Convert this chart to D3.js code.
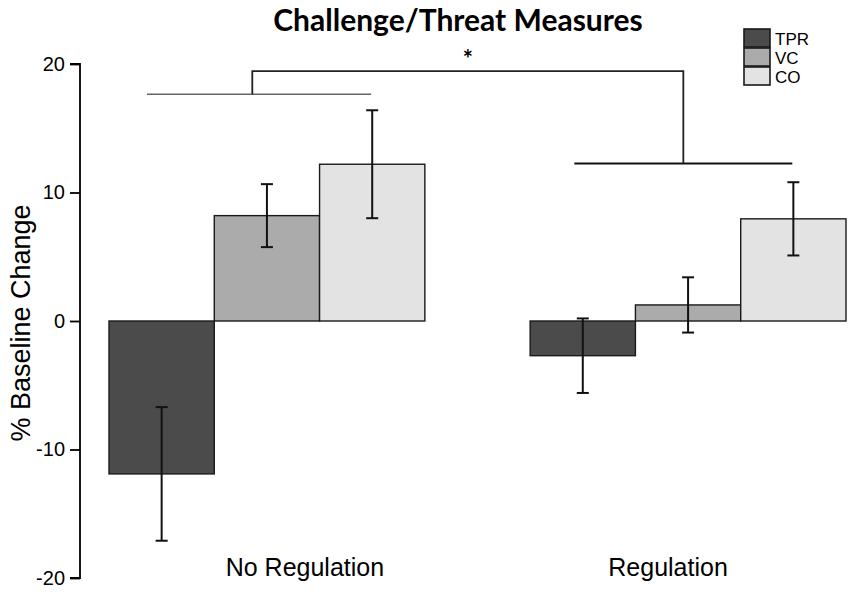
<!DOCTYPE html>
<html>
<head>
<meta charset="utf-8">
<script src="https://cdn.jsdelivr.net/npm/d3@7/dist/d3.min.js"></script>
<style>
  html, body { margin: 0; padding: 0; background: #fff; }
  svg { display: block; }
</style>
</head>
<body>
<svg id="chart" width="850" height="616"></svg>
<script>
// ---- data ----
const groups = ["No Regulation", "Regulation"];
const series = ["TPR", "VC", "CO"];
const values = {
  "No Regulation": [-11.9, 8.2, 12.2],
  "Regulation": [-2.7, 1.25, 7.95]
};
const errors = {
  "No Regulation": [5.2, 2.45, 4.2],
  "Regulation": [2.9, 2.15, 2.85]
};
const colors = ["#4b4b4b", "#ababab", "#e3e3e3"];
const yTicks = [-20, -10, 0, 10, 20];
const titleText = "Challenge/Threat Measures";
const yLabel = "% Baseline Change";
// significance bracket levels (data units)
const bracketLevels = { groupLine: [17.65, 12.25], top: 19.45 };
const sigLabel = "*";

// ---- scales ----
const svg = d3.select("#chart");
const y = d3.scaleLinear().domain([-20, 20]).range([578, 64]);
const x0 = d3.scaleBand().domain(groups).range([109, 846]).paddingInner(0.25).paddingOuter(0);
const x1 = d3.scaleBand().domain(series).range([0, x0.bandwidth()]).padding(0);
const color = d3.scaleOrdinal().domain(series).range(colors);

// ---- title ----
svg.append("text")
  .attr("x", 458).attr("y", 31)
  .attr("text-anchor", "middle")
  .attr("font-family", "Lato, 'Open Sans', sans-serif")
  .attr("font-weight", "bold")
  .attr("font-size", 30)
  .attr("fill", "#000")
  .text(titleText);

// ---- y axis ----
const yAxis = d3.axisLeft(y).tickValues(yTicks).tickSize(10).tickPadding(5).tickFormat(d => String(d));
const gy = svg.append("g").attr("transform", "translate(80,0)").call(yAxis);
gy.select(".domain").attr("stroke", "#000").attr("stroke-width", 1.8)
  .attr("d", `M-10,${y(20)}H0V${y(-20)}H-10`);
gy.selectAll(".tick line").attr("stroke", "#000").attr("stroke-width", 1.8);
gy.selectAll(".tick text")
  .attr("font-family", "'Liberation Sans', Arial, sans-serif")
  .attr("font-size", 20).attr("fill", "#000");

svg.append("text")
  .attr("transform", `translate(30,${y(0) + 2}) rotate(-90)`)
  .attr("text-anchor", "middle")
  .attr("font-family", "'Liberation Sans', Arial, sans-serif")
  .attr("font-size", 27).attr("fill", "#000")
  .text(yLabel);

// ---- bars ----
const rows = [];
groups.forEach(g => series.forEach((s, i) => rows.push({ g, s, v: values[g][i], e: errors[g][i] })));

svg.append("g").selectAll("rect").data(rows).join("rect")
  .attr("x", d => x0(d.g) + x1(d.s))
  .attr("width", x1.bandwidth())
  .attr("y", d => y(Math.max(0, d.v)))
  .attr("height", d => Math.abs(y(d.v) - y(0)))
  .attr("fill", d => color(d.s))
  .attr("stroke", "#1a1a1a")
  .attr("stroke-width", 1.4);

// ---- error bars ----
const eb = svg.append("g").attr("stroke", "#111").attr("stroke-width", 2);
rows.forEach(d => {
  const cx = x0(d.g) + x1(d.s) + x1.bandwidth() / 2;
  eb.append("line").attr("x1", cx).attr("x2", cx).attr("y1", y(d.v + d.e)).attr("y2", y(d.v - d.e));
  eb.append("line").attr("x1", cx - 6).attr("x2", cx + 6).attr("y1", y(d.v + d.e)).attr("y2", y(d.v + d.e));
  eb.append("line").attr("x1", cx - 6).attr("x2", cx + 6).attr("y1", y(d.v - d.e)).attr("y2", y(d.v - d.e));
});

// ---- x labels ----
const labelShift = [38, -20];
svg.append("g").selectAll("text").data(groups).join("text")
  .attr("x", (d, i) => x0(d) + x0.bandwidth() / 2 + labelShift[i])
  .attr("y", 576)
  .attr("text-anchor", "middle")
  .attr("font-family", "'Liberation Sans', Arial, sans-serif")
  .attr("font-size", 25).attr("fill", "#000")
  .text(d => d);

// ---- significance bracket ----
const bw = x0.bandwidth();
const lineSpans = [[0.12, 0.83], [0.14, 0.83]];
const gl = groups.map((g, i) => {
  const a = x0(g) + lineSpans[i][0] * bw, b = x0(g) + lineSpans[i][1] * bw;
  return { a, b, yv: y(bracketLevels.groupLine[i]) };
});
const drops = [gl[0].a + (gl[0].b - gl[0].a) * 0.47, (gl[1].a + gl[1].b) / 2];
svg.append("line").attr("x1", gl[0].a).attr("x2", gl[0].b).attr("y1", gl[0].yv).attr("y2", gl[0].yv)
  .attr("stroke", "#666").attr("stroke-width", 1.6);
svg.append("line").attr("x1", gl[1].a).attr("x2", gl[1].b).attr("y1", gl[1].yv).attr("y2", gl[1].yv)
  .attr("stroke", "#111").attr("stroke-width", 2);
svg.append("path")
  .attr("d", `M${drops[0]},${gl[0].yv}V${y(bracketLevels.top)}H${drops[1]}V${gl[1].yv}`)
  .attr("fill", "none").attr("stroke", "#222").attr("stroke-width", 1.8);
svg.append("text")
  .attr("x", (drops[0] + drops[1]) / 2).attr("y", 68)
  .attr("text-anchor", "middle")
  .attr("font-family", "Lato, sans-serif").attr("font-weight", "bold")
  .attr("font-size", 24).attr("fill", "#000")
  .text(sigLabel);

// ---- legend ----
const lg = svg.append("g").attr("transform", "translate(744,29)");
series.forEach((s, i) => {
  lg.append("rect").attr("x", 0).attr("y", i * 19).attr("width", 26).attr("height", 18)
    .attr("fill", color(s)).attr("stroke", "#1a1a1a").attr("stroke-width", 1.6);
  lg.append("text").attr("x", 31).attr("y", i * 19 + 15.5)
    .attr("font-family", "'Liberation Sans', Arial, sans-serif")
    .attr("font-size", 17).attr("fill", "#000")
    .text(s);
});
</script>
</body>
</html>
